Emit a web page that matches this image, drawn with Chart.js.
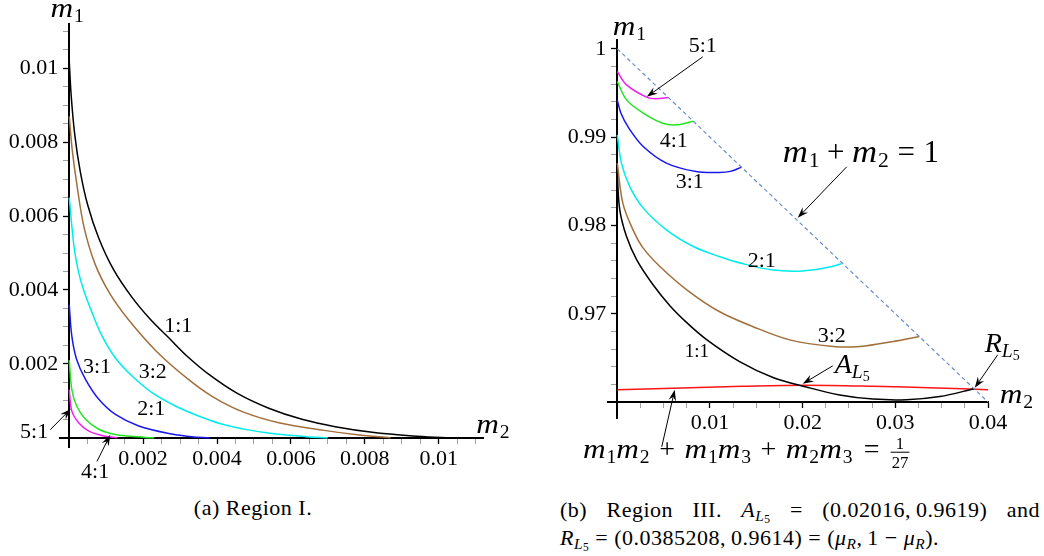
<!DOCTYPE html>
<html>
<head>
<meta charset="utf-8">
<script src="https://cdn.jsdelivr.net/npm/chart.js@4.4.1/dist/chart.umd.min.js"></script>
<style>
  body { margin: 0; background: #fff; width: 1044px; height: 556px; position: relative; overflow: hidden; font-family: "Liberation Serif", serif; color: #000; }
  #wa { position: absolute; left: 0; top: 0; width: 520px; height: 480px; }
  #wb { position: absolute; left: 520px; top: 0; width: 524px; height: 480px; }
  .cap { position: absolute; font-size: 22px; line-height: 28px; letter-spacing: 0.5px; white-space: nowrap; }
  .cap sub { font-size: 70%; line-height: 0; vertical-align: -0.25em; }
  .cap sub sub { font-size: 75%; vertical-align: -0.2em; }
</style>
</head>
<body>
<div id="wa"><canvas id="ca"></canvas></div>
<div id="wb"><canvas id="cb"></canvas></div>
<div class="cap" style="left:0; top:494px; width:506px; text-align:center;">(a) Region I.</div>
<div class="cap" style="left:560px; top:496px; width:480px; display:flex; justify-content:space-between;">
  <span>(b)</span><span>Region</span><span>III.</span><span><i>A</i><sub><i>L</i><sub>5</sub></sub></span><span>=</span><span>(0.02016,&#8201;0.9619)</span><span>and</span>
</div>
<div class="cap" style="left:560px; top:524px;"><i>R</i><sub><i>L</i><sub>5</sub></sub> = (0.0385208,&#8201;0.9614) = (<i>μ</i><sub><i>R</i></sub>,&#8201;1 − <i>μ</i><sub><i>R</i></sub>).</div>

<script>
// Region I (left panel): m2 along x, m1 along y
var r1_11_m2 = [0, 0.00005, 0.00015, 0.0003, 0.0005, 0.0008, 0.0012, 0.0017, 0.0022, 0.0027, 0.0032, 0.0038, 0.00455, 0.0054, 0.0063, 0.0072, 0.0082, 0.0093, 0.0102];
var r1_11_m1 = [0.0102, 0.0093, 0.0082, 0.0072, 0.0063, 0.0054, 0.00455, 0.0038, 0.0032, 0.0027, 0.0022, 0.0017, 0.0012, 0.0008, 0.0005, 0.0003, 0.00015, 0.00005, 0];
var r1_32_m2 = [0, 0.00008, 0.0002, 0.0004, 0.0007, 0.0011, 0.0016, 0.00235, 0.0032, 0.0039, 0.0047, 0.0057, 0.0069, 0.0078, 0.0087];
var r1_32_m1 = [0.0087, 0.0078, 0.0069, 0.0057, 0.0047, 0.0039, 0.0032, 0.00235, 0.0016, 0.0011, 0.0007, 0.0004, 0.0002, 0.00008, 0];
var r1_21_m2 = [0, 0.00013, 0.00026, 0.00039, 0.00062, 0.00089, 0.00125, 0.0017, 0.00224, 0.00287, 0.0035, 0.0041, 0.0048, 0.0056, 0.0064, 0.0070];
var r1_21_m1 = [0.0065, 0.00517, 0.00445, 0.004, 0.00338, 0.00275, 0.00216, 0.00167, 0.00122, 0.00086, 0.00059, 0.00038, 0.00022, 0.0001, 0.00003, 0];
var r1_31_m2 = [0, 0.00007, 0.0002, 0.00044, 0.0008, 0.00125, 0.00188, 0.00278, 0.0033, 0.0038];
var r1_31_m1 = [0.0036, 0.00275, 0.00212, 0.00158, 0.00104, 0.00063, 0.00032, 0.0001, 0.00003, 0];
var r1_41_m2 = [0, 0.00007, 0.0002, 0.00044, 0.0008, 0.00125, 0.00206, 0.0023];
var r1_41_m1 = [0.0021, 0.0013, 0.00086, 0.0005, 0.00023, 0.00009, 0.00001, 0];
var r1_51_m2 = [0, 0.00007, 0.00026, 0.00053, 0.00098, 0.0013];
var r1_51_m1 = [0.0013, 0.00072, 0.0004, 0.00018, 0.00004, 0];

// Region III (right panel)
var r3_11_m2 = [0, 0.00027, 0.001, 0.0021, 0.0039, 0.0057, 0.0075, 0.0096, 0.0132, 0.0168, 0.0204, 0.024, 0.0276, 0.0312, 0.0348, 0.0385];
var r3_11_m1 = [0.98573, 0.98177, 0.97874, 0.9761, 0.97322, 0.97088, 0.96899, 0.9671, 0.96458, 0.96278, 0.9617, 0.9608, 0.96033, 0.96026, 0.96062, 0.9615];
var r3_32_m2 = [0, 0.0006, 0.0017, 0.0028, 0.0046, 0.0075, 0.011, 0.0146, 0.0186, 0.0233, 0.0262, 0.0298, 0.0326];
var r3_32_m1 = [0.98706, 0.98253, 0.9795, 0.97743, 0.97535, 0.97271, 0.97025, 0.96856, 0.96704, 0.96629, 0.96629, 0.96686, 0.96742];
var r3_21_m2 = [0, 0.00045, 0.00135, 0.0028, 0.0053, 0.0082, 0.011, 0.0136, 0.0168, 0.02, 0.0226, 0.0242];
var r3_21_m1 = [0.99026, 0.98706, 0.9844, 0.98196, 0.9795, 0.97761, 0.97648, 0.97565, 0.97495, 0.97485, 0.97523, 0.97565];
var r3_31_m2 = [0, 0.0004, 0.0012, 0.0028, 0.0053, 0.0085, 0.011, 0.0122, 0.0134];
var r3_31_m1 = [0.9942, 0.9927, 0.9911, 0.98894, 0.98706, 0.9861, 0.98599, 0.98612, 0.9866];
var r3_41_m2 = [0, 0.001, 0.0028, 0.0049, 0.0064, 0.0082];
var r3_41_m1 = [0.9963, 0.99422, 0.99272, 0.99158, 0.99139, 0.9918];
var r3_51_m2 = [0, 0.001, 0.00315, 0.0042, 0.0055];
var r3_51_m1 = [0.99743, 0.99592, 0.99453, 0.99434, 0.9945];
var r3_l5_m2 = [0, 0.006, 0.0135, 0.0202, 0.0276, 0.0345, 0.04];
var r3_l5_m1 = [0.9614, 0.96157, 0.96178, 0.9619, 0.96178, 0.96158, 0.9614];
var r3_sum_m2 = [0, 0.04];
var r3_sum_m1 = [1, 0.96];

var FONT = '"Liberation Serif", serif';

function pts(xs, ys) {
  return xs.map(function (v, i) { return { x: v, y: ys[i] }; });
}

function curve(xs, ys, color, extra) {
  var d = {
    data: pts(xs, ys),
    showLine: true,
    borderColor: color,
    borderWidth: 1.5,
    pointRadius: 0,
    tension: 0.35,
    fill: false
  };
  return Object.assign(d, extra || {});
}

// math-ish text: parts are [text, kind]
function drawMath(ctx, parts, x, y, size) {
  var cx = x;
  ctx.textAlign = 'left';
  parts.forEach(function (p) {
    var t = p[0], k = p[1];
    if (k === 'gap') { cx += t * size; return; }
    if (k === 'frac') {
      var fs = size * 0.6;
      ctx.font = fs + 'px ' + FONT;
      var w = Math.max(ctx.measureText(t[0]).width, ctx.measureText(t[1]).width) + 2;
      ctx.textAlign = 'center';
      ctx.fillText(t[0], cx + w / 2, y - size * 0.3);
      ctx.fillText(t[1], cx + w / 2, y + size * 0.37);
      ctx.fillRect(cx, y - size * 0.2 - 0.5, w, 1);
      ctx.textAlign = 'left';
      cx += w;
      return;
    }
    var fs2 = size, dy = 0, it = false;
    if (k === 'i') it = true;
    if (k === 'sub' || k === 'subi') { fs2 = size * 0.7; dy = size * 0.17; it = (k === 'subi'); }
    if (k === 'subsub') { fs2 = size * 0.5; dy = size * 0.3; }
    ctx.font = (it ? 'italic ' : '') + fs2 + 'px ' + FONT;
    var sc = (t === 'm' && k === 'i') ? 1.12 : 1;
    ctx.save();
    ctx.translate(cx, y + dy);
    ctx.scale(sc, 1);
    ctx.fillText(t, 0, 0);
    ctx.restore();
    cx += ctx.measureText(t).width * sc;
    if (t === 'm' && k === 'i') cx += size * 0.03;
  });
}

function drawArrow(ctx, x1, y1, x2, y2) {
  var a = Math.atan2(y2 - y1, x2 - x1), L = 11, w = 3.8;
  var c = Math.cos(a), s = Math.sin(a);
  ctx.lineWidth = 1;
  ctx.beginPath();
  ctx.moveTo(x1, y1);
  ctx.lineTo(x2 - c * 6, y2 - s * 6);
  ctx.stroke();
  ctx.beginPath();
  ctx.moveTo(x2, y2);
  ctx.lineTo(x2 - L * c - w * s, y2 - L * s + w * c);
  ctx.lineTo(x2 - 0.65 * L * c, y2 - 0.65 * L * s);
  ctx.lineTo(x2 - L * c + w * s, y2 - L * s - w * c);
  ctx.closePath();
  ctx.fill();
}

function makeNotes(items) {
  return {
    id: 'notes',
    afterDraw: function (chart) {
      var ctx = chart.ctx, sx = chart.scales.x, sy = chart.scales.y;
      ctx.save();
      ctx.fillStyle = '#000';
      ctx.strokeStyle = '#000';
      ctx.textBaseline = 'alphabetic';
      items.forEach(function (n) {
        if (n.k === 'text') {
          ctx.font = (n.size || 22) + 'px ' + FONT;
          ctx.textAlign = 'center';
          ctx.fillText(n.t, sx.getPixelForValue(n.x), sy.getPixelForValue(n.y));
        } else if (n.k === 'math') {
          drawMath(ctx, n.parts, sx.getPixelForValue(n.x), sy.getPixelForValue(n.y), n.size || 28);
        } else if (n.k === 'arrow') {
          drawArrow(ctx, sx.getPixelForValue(n.x1), sy.getPixelForValue(n.y1),
            sx.getPixelForValue(n.x2), sy.getPixelForValue(n.y2));
        }
      });
      ctx.restore();
    }
  };
}

function axis(opts) {
  return {
    type: 'linear',
    min: opts.min,
    max: opts.max,
    position: opts.position,
    afterFit: opts.afterFit,
    border: { display: true, color: '#000', width: 2 },
    grid: {
      display: true,
      drawOnChartArea: false,
      drawTicks: true,
      tickLength: 5,
      tickColor: function (c) {
        var v = c.tick ? c.tick.value : 0;
        if (opts.hide(v)) return 'rgba(0,0,0,0)';
        return opts.major(v) ? '#000' : '#888';
      },
      tickWidth: function (c) {
        var v = c.tick ? c.tick.value : 0;
        return opts.major(v) ? 1.3 : 0.8;
      }
    },
    ticks: {
      stepSize: opts.step,
      autoSkip: false,
      includeBounds: false,
      maxRotation: 0,
      padding: 3,
      color: '#000',
      font: { family: 'Liberation Serif', size: 22 },
      callback: function (v) {
        if (opts.hide(v) || !opts.major(v)) return '';
        return opts.fmt(v);
      }
    }
  };
}

Chart.defaults.animation = false;

var m1 = [['m', 'i'], ['1', 'sub']];
var m2 = [['m', 'i'], ['2', 'sub']];

// ---------- left panel ----------
new Chart(document.getElementById('ca'), {
  type: 'scatter',
  data: {
    datasets: [
      curve(r1_11_m2, r1_11_m1, '#000000'),
      curve(r1_32_m2, r1_32_m1, '#a26f3c'),
      curve(r1_21_m2, r1_21_m1, '#00ecec'),
      curve(r1_31_m2, r1_31_m1, '#1818ee'),
      curve(r1_41_m2, r1_41_m1, '#20e620'),
      curve(r1_51_m2, r1_51_m1, '#f020f0')
    ]
  },
  options: {
    responsive: true,
    maintainAspectRatio: false,
    layout: { padding: { left: 60, right: 37, top: 24, bottom: 33 } },
    plugins: { legend: { display: false }, tooltip: { enabled: false } },
    scales: {
      x: axis({
        min: -0.00025, max: 0.0112, step: 0.0005, position: { y: 0 },
        afterFit: function (s) { s.height = 0; },
        hide: function (v) { return Math.abs(v) < 1e-9; },
        major: function (v) { return Math.round(v / 0.0005) % 4 === 0; },
        fmt: function (v) { return String(parseFloat(v.toFixed(3))); }
      }),
      y: axis({
        min: -0.00025, max: 0.0112, step: 0.0005, position: { x: 0 },
        afterFit: function (s) { s.width = 0; },
        hide: function (v) { return Math.abs(v) < 1e-9; },
        major: function (v) { return Math.round(v / 0.0005) % 4 === 0; },
        fmt: function (v) { return String(parseFloat(v.toFixed(3))) + '  '; }
      })
    }
  },
  plugins: [makeNotes([
    { k: 'text', t: '1:1', x: 0.00295, y: 0.00286 },
    { k: 'text', t: '3:2', x: 0.00226, y: 0.00162 },
    { k: 'text', t: '3:1', x: 0.00075, y: 0.00176 },
    { k: 'text', t: '2:1', x: 0.00222, y: 0.00062 },
    { k: 'text', t: '5:1', x: -0.00095, y: 0.0 },
    { k: 'text', t: '4:1', x: 0.0007, y: -0.00108 },
    { k: 'arrow', x1: -0.00051, y1: 0.00022, x2: 0.00004, y2: 0.00078 },
    { k: 'arrow', x1: 0.00075, y1: -0.00064, x2: 0.00111, y2: 0.00008 },
    { k: 'math', parts: m1, x: -0.00051, y: 0.01138 },
    { k: 'math', parts: m2, x: 0.01102, y: 0.000135 }
  ])]
});

// ---------- right panel ----------
new Chart(document.getElementById('cb'), {
  type: 'scatter',
  data: {
    datasets: [
      curve(r3_sum_m2, r3_sum_m1, '#6b8ccc', { borderWidth: 1.2, borderDash: [4, 3], tension: 0 }),
      curve(r3_11_m2, r3_11_m1, '#000000'),
      curve(r3_32_m2, r3_32_m1, '#a26f3c'),
      curve(r3_21_m2, r3_21_m1, '#00ecec'),
      curve(r3_31_m2, r3_31_m1, '#1818ee'),
      curve(r3_41_m2, r3_41_m1, '#20e620'),
      curve(r3_51_m2, r3_51_m1, '#f020f0'),
      curve(r3_l5_m2, r3_l5_m1, '#ff1414')
    ]
  },
  options: {
    responsive: true,
    maintainAspectRatio: false,
    layout: { padding: { left: 88, right: 56, top: 40, bottom: 62 } },
    plugins: { legend: { display: false }, tooltip: { enabled: false } },
    scales: {
      x: axis({
        min: -0.001, max: 0.04, step: 0.0025, position: { y: 0.96 },
        afterFit: function (s) { s.height = 0; },
        hide: function (v) { return Math.abs(v) < 1e-9; },
        major: function (v) { return Math.round(v / 0.0025) % 4 === 0; },
        fmt: function (v) { return v.toFixed(2); }
      }),
      y: axis({
        min: 0.95819, max: 1.001, step: 0.002, position: { x: 0 },
        afterFit: function (s) { s.width = 0; },
        hide: function (v) { return Math.abs(v - 0.96) < 1e-9; },
        major: function (v) { return Math.round(v / 0.002) % 5 === 0; },
        fmt: function (v) { return (Math.abs(v - 1) < 1e-9 ? '1' : v.toFixed(2)) + '  '; }
      })
    }
  },
  plugins: [makeNotes([
    { k: 'math', parts: m1, x: -0.00049, y: 1.00159 },
    { k: 'text', t: '5:1', x: 0.00922, y: 0.99966 },
    { k: 'arrow', x1: 0.00922, y1: 0.99909, x2: 0.00318, y2: 0.99456 },
    { k: 'text', t: '4:1', x: 0.0061, y: 0.9889 },
    { k: 'text', t: '3:1', x: 0.00782, y: 0.98426 },
    { k: 'math', size: 31, parts: [['m', 'i'], ['1', 'sub'], [0.24, 'gap'], ['+', 'r'], [0.24, 'gap'], ['m', 'i'], ['2', 'sub'], [0.28, 'gap'], ['=', 'r'], [0.28, 'gap'], ['1', 'r']], x: 0.01785, y: 0.9872 },
    { k: 'arrow', x1: 0.02476, y1: 0.98664, x2: 0.01947, y2: 0.98086 },
    { k: 'text', t: '2:1', x: 0.01559, y: 0.97531 },
    { k: 'text', t: '3:2', x: 0.02314, y: 0.96682 },
    { k: 'text', t: '1:1', x: 0.00858, y: 0.96512, size: 19 },
    { k: 'math', parts: [['A', 'i'], ['L', 'subi'], ['5', 'subsub']], x: 0.02346, y: 0.96331 },
    { k: 'arrow', x1: 0.02325, y1: 0.9641, x2: 0.02001, y2: 0.96206 },
    { k: 'math', parts: [['R', 'i'], ['L', 'subi'], ['5', 'subsub']], x: 0.03964, y: 0.96569 },
    { k: 'arrow', x1: 0.04105, y1: 0.96535, x2: 0.03857, y2: 0.96161 },
    { k: 'math', parts: m2, x: 0.04126, y: 0.95991 },
    { k: 'math', parts: [['m', 'i'], ['1', 'sub'], ['m', 'i'], ['2', 'sub'], [0.34, 'gap'], ['+', 'r'], [0.34, 'gap'],
      ['m', 'i'], ['1', 'sub'], ['m', 'i'], ['3', 'sub'], [0.34, 'gap'], ['+', 'r'], [0.34, 'gap'],
      ['m', 'i'], ['2', 'sub'], ['m', 'i'], ['3', 'sub'], [0.4, 'gap'], ['=', 'r'], [0.4, 'gap'], [['1', '27'], 'frac']],
      x: -0.00369, y: 0.95368 },
    { k: 'arrow', x1: 0.0048, y1: 0.95493, x2: 0.0062, y2: 0.96138 }
  ])]
});
</script>
</body>
</html>
